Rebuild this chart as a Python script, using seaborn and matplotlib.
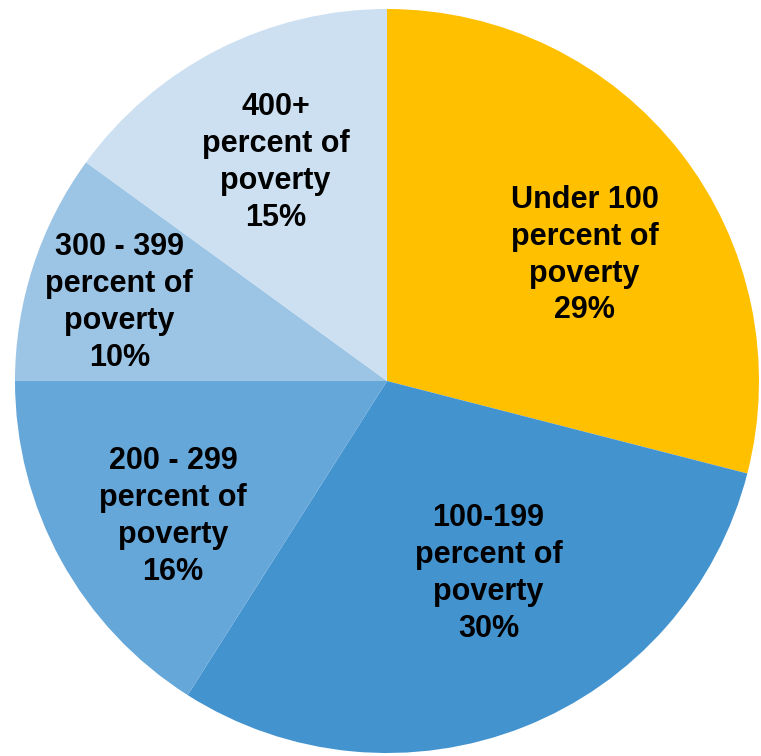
import numpy as np
import seaborn as sns
import matplotlib.pyplot as plt

sns.set_style("white")
plt.rcParams['font.family'] = ['Liberation Sans', 'DejaVu Sans']

labels = ["Under 100\npercent of\npoverty\n29%",
          "100-199\npercent of\npoverty\n30%",
          "200 - 299\npercent of\npoverty\n16%",
          "300 - 399\npercent of\npoverty\n10%",
          "400+\npercent of\npoverty\n15%"]
shares = [29, 30, 16, 10, 15]
colors = ["#FFC000", "#4393CF", "#66A7DA", "#9CC4E5", "#CCE0F1"]
# label placement: radial distance and angular nudge (degrees)
label_dist = [0.63, 0.585, 0.68, 0.75, 0.66]
label_shift = [-5.3, 6.2, 3.5, 1.7, 0]

fig = plt.figure(figsize=(7.61, 7.56), dpi=100)
ax = fig.add_axes([15 / 761, 3 / 756, 744 / 761, 744 / 756])

wedges, _ = ax.pie(shares, colors=colors, startangle=90, counterclock=False,
                   radius=1, wedgeprops=dict(linewidth=0))

for w, lab, d, s in zip(wedges, labels, label_dist, label_shift):
    ang = np.deg2rad((w.theta1 + w.theta2) / 2 + s)
    ax.text(d * np.cos(ang), d * np.sin(ang), lab, ha="center", va="center",
            fontsize=22, fontweight="bold", color="black", linespacing=1.3)

ax.set_xlim(-1, 1)
ax.set_ylim(-1, 1)
ax.set_aspect("equal")
ax.axis("off")

fig.savefig("out.png", dpi=100)
